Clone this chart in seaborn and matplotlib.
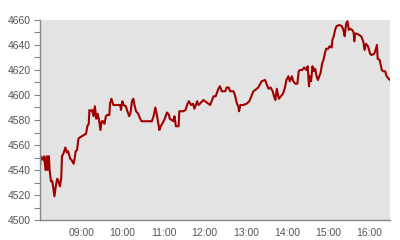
import matplotlib
matplotlib.use("Agg")
import matplotlib.pyplot as plt
import matplotlib.dates as mdates
from matplotlib.ticker import MultipleLocator
import pandas as pd
import seaborn as sns

times = ["08:00","08:01","08:05","08:06","08:08","08:10","08:11","08:13","08:14","08:16",
         "08:18","08:19","08:21","08:23","08:25","08:27","08:29","08:31","08:32","08:34",
         "08:37","08:39","08:41","08:44","08:46","08:49","08:51","08:52","08:54","08:56",
         "08:58","09:01","09:04","09:07","09:09","09:11","09:12","09:14","09:16","09:18",
         "09:20","09:22","09:24","09:26","09:28","09:30","09:32","09:34","09:36","09:38",
         "09:41","09:42","09:44","09:47","09:52","09:57","09:58","10:00","10:02","10:05",
         "10:08","10:10","10:12","10:14","10:16","10:18","10:20","10:23","10:26","10:28",
         "10:35","10:43","10:46","10:48","10:50","10:54","10:56","10:58","11:01","11:05",
         "11:08","11:09","11:12","11:14","11:16","11:18","11:22","11:23","11:29","11:32",
         "11:35","11:37","11:40","11:43","11:45","11:49","11:51","11:53","11:58","12:03",
         "12:08","12:10","12:13","12:16","12:20","12:22","12:25","12:30","12:32","12:35",
         "12:37","12:42","12:44","12:47","12:49","12:50","12:52","12:56","13:01","13:05",
         "13:08","13:11","13:16","13:18","13:23","13:28","13:30","13:33","13:36","13:39",
         "13:41","13:43","13:45","13:48","13:51","13:54","13:57","13:59","14:02","14:04",
         "14:07","14:09","14:12","14:15","14:17","14:19","14:22","14:25","14:28","14:30",
         "14:32","14:33","14:35","14:37","14:39","14:41","14:43","14:45","14:47","14:49",
         "14:51","14:53","14:55","14:57","15:00","15:02","15:05","15:06","15:08","15:10",
         "15:12","15:16","15:20","15:22","15:24","15:26","15:28","15:30","15:32","15:35",
         "15:37","15:38","15:39","15:42","15:45","15:48","15:51","15:53","15:55","15:58",
         "16:01","16:03","16:07","16:09","16:11","16:12","16:15","16:18","16:20","16:23",
         "16:25","16:28","16:30"]
values = [4543,4551,4548,4551,4540,4551,4540,4551,4540,4531,
          4531,4527,4519,4527,4533,4531,4527,4534,4551,4553,
          4558,4554,4555,4549,4548,4545,4551,4555,4556,4565,
          4566,4567,4568,4569,4575,4577,4588,4587,4588,4583,
          4591,4581,4585,4580,4572,4579,4579,4577,4583,4584,
          4584,4593,4597,4592,4592,4592,4588,4595,4592,4591,
          4586,4583,4586,4595,4597,4591,4587,4585,4581,4579,
          4579,4579,4584,4590,4585,4572,4575,4577,4580,4586,
          4584,4581,4580,4579,4583,4575,4575,4587,4587,4588,
          4593,4595,4592,4593,4589,4595,4592,4593,4596,4594,
          4592,4595,4599,4599,4605,4607,4603,4603,4606,4606,
          4603,4603,4600,4593,4591,4587,4592,4592,4593,4595,
          4599,4603,4605,4606,4611,4612,4609,4605,4606,4603,
          4599,4596,4605,4597,4599,4601,4606,4612,4615,4611,
          4615,4611,4609,4609,4619,4620,4620,4622,4620,4623,
          4607,4615,4611,4623,4619,4621,4615,4612,4615,4618,
          4625,4628,4633,4637,4637,4639,4638,4644,4647,4652,
          4655,4656,4655,4652,4647,4657,4659,4652,4653,4652,
          4650,4643,4649,4649,4648,4647,4643,4636,4641,4639,
          4633,4632,4633,4636,4640,4629,4628,4620,4619,4619,
          4615,4613,4612]
hour_ticks = ["09:00","10:00","11:00","12:00","13:00","14:00","15:00","16:00"]
y_min, y_max = 4500, 4660

day = "2024-01-02 "
df = pd.DataFrame({"time": pd.to_datetime([day + t for t in times]), "value": values})

sns.set_style("white")
plt.rcParams["font.family"] = ["Liberation Sans", "DejaVu Sans"]

fig = plt.figure(figsize=(4, 2.4), dpi=100)
ax = fig.add_axes([0.1, 0.0833, 0.875, 0.8334])
ax.set_facecolor("#e3e3e3")

sns.lineplot(data=df, x="time", y="value", ax=ax, color="#a00000", linewidth=1.5)

ax.set_xlim(pd.Timestamp(day + "08:00"), pd.Timestamp(day + "16:30"))
ax.set_ylim(y_min, y_max)
ax.set_xticks(pd.to_datetime([day + t for t in hour_ticks]))
ax.xaxis.set_major_formatter(mdates.DateFormatter("%H:%M"))
ax.yaxis.set_major_locator(MultipleLocator(20))
ax.yaxis.set_minor_locator(MultipleLocator(10))

ax.set_xlabel("")
ax.set_ylabel("")
for s in ["top", "right"]:
    ax.spines[s].set_visible(False)
for s in ["left", "bottom"]:
    ax.spines[s].set_color("#888888")
    ax.spines[s].set_linewidth(1.0)

ax.tick_params(axis="y", which="both", left=True, length=4.5, width=0.8,
               color="#888888", labelsize=7.5, labelcolor="#555555", pad=2)
ax.tick_params(axis="x", which="both", bottom=False, length=0,
               labelsize=7.5, labelcolor="#555555", pad=6)

fig.savefig("out.png", dpi=100)
